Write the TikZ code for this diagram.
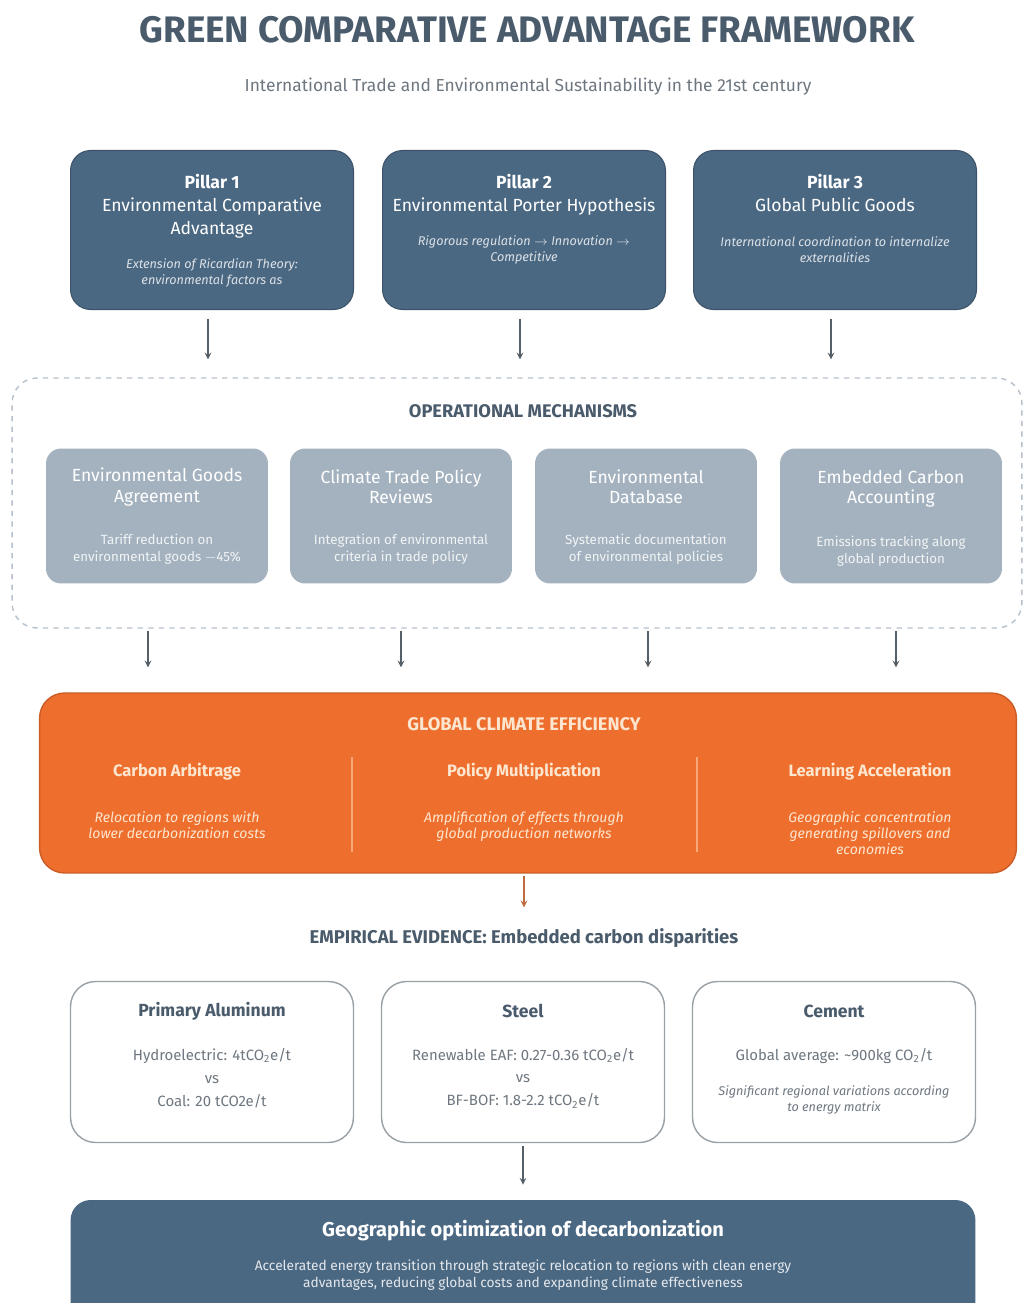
\documentclass[tikz,border=0pt]{standalone}
\usepackage{fontspec}
\setmainfont{Fira Sans}
\tikzset{>=stealth}

\definecolor{slate}{HTML}{4A5B6C}
\definecolor{pillarblue}{HTML}{4B6883}
\definecolor{mechgrey}{HTML}{A4B2BF}
\definecolor{gceorange}{HTML}{EE6E2D}
\definecolor{cream}{HTML}{FDE6CF}
\definecolor{divider}{HTML}{F7A877}
\definecolor{evidgrey}{HTML}{6E7780}
\definecolor{arrowgrey}{HTML}{555F68}

\tikzset{
    pillarbox/.style={draw=pillarblue!80!black, fill=pillarblue, rounded corners=0.4cm,
        minimum width=5.66cm, minimum height=3.18cm, line width=0.6pt},
    mechbox/.style={fill=mechgrey, rounded corners=0.3cm, minimum width=4.44cm, minimum height=2.7cm},
    evidbox/.style={draw=evidgrey!70, fill=white, rounded corners=0.5cm,
        minimum width=5.66cm, minimum height=3.22cm, line width=0.8pt},
    headtext/.style={font=\bfseries\fontsize{10.4}{12}\selectfont, text=slate},
    whitetext/.style={text=white, align=center, font=\fontsize{10}{13}\selectfont},
    desctext/.style={align=center, font=\itshape\fontsize{7.2}{9}\selectfont},
    flow/.style={->, draw=arrowgrey, line width=0.7pt},
}

\begin{document}
\begin{tikzpicture}[x=0.02cm, y=-0.02cm]
    \useasboundingbox (0,0) rectangle (1024,1303);
    \clip (0,0) rectangle (1024,1303);
    \fill[white] (0,0) rectangle (1024,1303);
    %title
    \node[font=\bfseries\fontsize{21}{25}\selectfont, text=slate] (title) at (527,30) {GREEN COMPARATIVE ADVANTAGE FRAMEWORK};
    \node[font=\fontsize{9.9}{11}\selectfont, text=evidgrey] (subtitle) at (528,87)
        {International Trade and Environmental Sustainability in the 21st century};
    %pillars
    \node[pillarbox] (p1) at (212,230) {};
    \node[pillarbox] (p2) at (524,230) {};
    \node[pillarbox] (p3) at (835,230) {};
    \node[whitetext, anchor=north] (p1t) at (212,168) {\textbf{Pillar 1}\\Environmental Comparative\\Advantage};
    \node[whitetext, anchor=north] (p2t) at (524,168) {\textbf{Pillar 2}\\Environmental Porter Hypothesis};
    \node[whitetext, anchor=north] (p3t) at (835,168) {\textbf{Pillar 3}\\Global Public Goods};
    \node[desctext, text=white!80!pillarblue] (p1d) at (212,273) {Extension of Ricardian Theory:\\environmental factors as};
    \node[desctext, text=white!80!pillarblue] (p2d) at (524,250) {Rigorous regulation $\rightarrow$ Innovation $\rightarrow$\\Competitive};
    \node[desctext, text=white!80!pillarblue] (p3d) at (835,250) {International coordination to internalize\\externalities};
    %operational mechanisms
    \node[draw=mechgrey!80, dashed, rounded corners=0.5cm, minimum width=20.2cm, minimum height=5cm,
        line width=0.8pt] (mech) at (517,503) {};
    \node[headtext] (mecht) at (523,411) {OPERATIONAL MECHANISMS};
    \node[mechbox] (m1) at (157,516) {};
    \node[mechbox] (m2) at (401,516) {};
    \node[mechbox] (m3) at (646,516) {};
    \node[mechbox] (m4) at (891,516) {};
    \node[whitetext, font=\fontsize{10}{11.5}\selectfont] (m1t) at (157,487) {Environmental Goods\\Agreement};
    \node[whitetext, font=\fontsize{10}{11.5}\selectfont] (m2t) at (401,487) {Climate Trade Policy\\Reviews};
    \node[whitetext, font=\fontsize{10}{11.5}\selectfont] (m3t) at (646,487) {Environmental\\Database};
    \node[whitetext, font=\fontsize{10}{11.5}\selectfont] (m4t) at (891,489) {Embedded Carbon\\Accounting};
    \node[desctext, font=\fontsize{7.6}{9.5}\selectfont, text=white!85!mechgrey] (m1d) at (157,549) {Tariff reduction on\\environmental goods $-$45\%};
    \node[desctext, font=\fontsize{7.6}{9.5}\selectfont, text=white!85!mechgrey] (m2d) at (401,549) {Integration of environmental\\criteria in trade policy};
    \node[desctext, font=\fontsize{7.6}{9.5}\selectfont, text=white!85!mechgrey] (m3d) at (646,549) {Systematic documentation\\of environmental policies};
    \node[desctext, font=\fontsize{7.6}{9.5}\selectfont, text=white!85!mechgrey] (m4d) at (891,551) {Emissions tracking along\\global production};
    %global climate efficiency
    \node[draw=gceorange!85!black, fill=gceorange, rounded corners=0.5cm, minimum width=19.54cm,
        minimum height=3.6cm, line width=0.8pt] (gce) at (528,783) {};
    \node[headtext, text=cream] (gcet) at (524,724) {GLOBAL CLIMATE EFFICIENCY};
    \node[font=\bfseries\fontsize{9.4}{11}\selectfont, text=cream] (g1t) at (177,772) {Carbon Arbitrage};
    \node[font=\bfseries\fontsize{9.4}{11}\selectfont, text=cream] (g2t) at (524,772) {Policy Multiplication};
    \node[font=\bfseries\fontsize{9.4}{11}\selectfont, text=cream] (g3t) at (870,772) {Learning Acceleration};
    \node[desctext, font=\itshape\fontsize{8}{9.2}\selectfont, text=cream, anchor=north] (g1d) at (177,805) {Relocation to regions with\\lower decarbonization costs};
    \node[desctext, font=\itshape\fontsize{8}{9.2}\selectfont, text=cream, anchor=north] (g2d) at (524,805) {Amplification of effects through\\global production networks};
    \node[desctext, font=\itshape\fontsize{8}{9.2}\selectfont, text=cream, anchor=north] (g3d) at (870,805) {Geographic concentration\\generating spillovers and\\economies};
    \draw[divider, line width=1pt] (352,757) -- (352,852) (697,757) -- (697,852);
    %empirical evidence
    \node[font=\bfseries\fontsize{10.5}{12}\selectfont, text=slate] (evhead) at (524,938)
        {EMPIRICAL EVIDENCE: Embedded carbon disparities};
    \node[evidbox] (e1) at (212,1062) {};
    \node[evidbox] (e2) at (523,1062) {};
    \node[evidbox] (e3) at (834,1062) {};
    \node[font=\bfseries\fontsize{10}{12}\selectfont, text=slate] (e1t) at (212,1011) {Primary Aluminum};
    \node[font=\bfseries\fontsize{10}{12}\selectfont, text=slate] (e2t) at (523,1011) {Steel};
    \node[font=\bfseries\fontsize{10}{12}\selectfont, text=slate] (e3t) at (834,1011) {Cement};
    \node[align=center, font=\fontsize{8.5}{13}\selectfont, text=evidgrey] (e1d) at (212,1078)
        {Hydroelectric: 4tCO\textsubscript{2}e/t\\vs\\Coal: 20 tCO2e/t};
    \node[align=center, font=\fontsize{8.5}{13}\selectfont, text=evidgrey] (e2d) at (523,1078)
        {Renewable EAF: 0.27-0.36 tCO\textsubscript{2}e/t\\vs\\BF-BOF: 1.8-2.2 tCO\textsubscript{2}e/t};
    \node[font=\fontsize{8.5}{11}\selectfont, text=evidgrey] (e3d) at (834,1056) {Global average: \textasciitilde900kg CO\textsubscript{2}/t};
    \node[desctext, text=evidgrey] (e3n) at (834,1100) {Significant regional variations according\\to energy matrix};
    %outcome
    \node[fill=pillarblue, rounded corners=0.4cm, minimum width=18.1cm, minimum height=2.8cm] (out) at (523,1270) {};
    \node[font=\bfseries\fontsize{11.4}{13}\selectfont, text=white] (outt) at (523,1231) {Geographic optimization of decarbonization};
    \node[align=center, font=\fontsize{7.8}{9.5}\selectfont, text=white!85!pillarblue] (outd) at (523,1275)
        {Accelerated energy transition through strategic relocation to regions with clean energy\\advantages, reducing global costs and expanding climate effectiveness};
    %arrows
    \foreach \p in {p1,p2,p3}
        \draw[flow, shorten <=0.18cm, shorten >=0.36cm] ([xshift=-0.08cm]\p.south) -- ([xshift=-0.08cm]\p.south |- mech.north);
    \foreach \m/\dx in {m1/-0.18,m2/0,m3/0.04,m4/0.1}
        \draw[flow, shorten <=0.05cm, shorten >=0.5cm] ([xshift=\dx cm]\m.south |- mech.south) -- ([xshift=\dx cm]\m.south |- gce.north);
    \draw[flow, draw=gceorange!70!arrowgrey, shorten <=0.04cm, shorten >=0.3cm] (gce.south -| evhead.north) -- (evhead.north);
    \draw[flow, shorten <=0.06cm, shorten >=0.3cm] (e2.south) -- (e2.south |- out.north);
\end{tikzpicture}
\end{document}
